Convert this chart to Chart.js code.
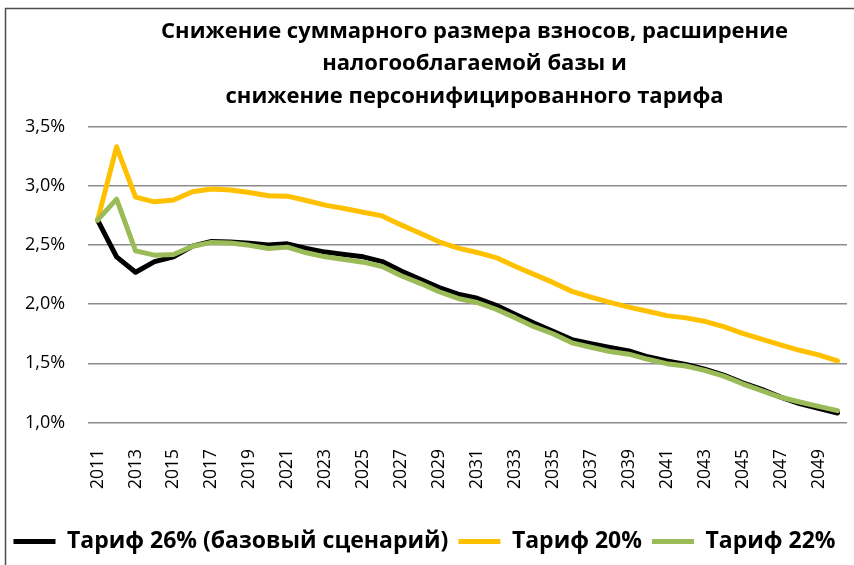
<!DOCTYPE html>
<html>
<head>
<meta charset="utf-8">
<script src="https://cdn.jsdelivr.net/npm/chart.js@4/dist/chart.umd.min.js"></script>
<style>
  html, body { margin: 0; padding: 0; background: #fff; overflow: hidden; }
  #chart { display: block; }
</style>
</head>
<body>
<canvas id="chart" width="854" height="565"></canvas>
<script>
'use strict';

// years on the x axis
var years = ['2011', '2012', '2013', '2014', '2015', '2016', '2017', '2018', '2019', '2020',
             '2021', '2022', '2023', '2024', '2025', '2026', '2027', '2028', '2029', '2030',
             '2031', '2032', '2033', '2034', '2035', '2036', '2037', '2038', '2039', '2040',
             '2041', '2042', '2043', '2044', '2045', '2046', '2047', '2048', '2049', '2050'];

// values, %
var tariff26 = [2.71, 2.40, 2.27, 2.36, 2.40, 2.49, 2.53, 2.525, 2.515, 2.50,
                2.51, 2.47, 2.44, 2.42, 2.40, 2.36, 2.28, 2.21, 2.14, 2.085,
                2.05, 1.99, 1.915, 1.84, 1.77, 1.70, 1.665, 1.635, 1.605, 1.555,
                1.52, 1.49, 1.45, 1.40, 1.335, 1.28, 1.215, 1.16, 1.12, 1.08];

var tariff20 = [2.71, 3.33, 2.905, 2.865, 2.88, 2.95, 2.973, 2.964, 2.944, 2.916,
                2.913, 2.876, 2.837, 2.808, 2.777, 2.746, 2.67, 2.60, 2.527, 2.474,
                2.437, 2.394, 2.32, 2.252, 2.184, 2.108, 2.06, 2.015, 1.975, 1.94,
                1.903, 1.884, 1.855, 1.81, 1.753, 1.705, 1.656, 1.61, 1.571, 1.52];

var tariff22 = [2.71, 2.888, 2.45, 2.414, 2.42, 2.49, 2.522, 2.516, 2.497, 2.471,
                2.482, 2.434, 2.40, 2.378, 2.355, 2.318, 2.24, 2.176, 2.105, 2.048,
                2.014, 1.957, 1.886, 1.81, 1.75, 1.673, 1.636, 1.60, 1.577, 1.534,
                1.497, 1.477, 1.44, 1.392, 1.327, 1.27, 1.213, 1.173, 1.136, 1.10];

var seriesNames = ['Тариф 26% (базовый сценарий)', 'Тариф 20%', 'Тариф 22%'];
var titleLines = ['Снижение суммарного размера взносов, расширение',
                  'налогооблагаемой базы и',
                  'снижение персонифицированного тарифа'];

var FONT = '"Open Sans", "Noto Sans", sans-serif';

function makeLine(label, data, color, order) {
  return {
    label: label,
    data: data,
    borderColor: color,
    backgroundColor: color,
    borderWidth: 5,
    borderCapStyle: 'round',
    borderJoinStyle: 'round',
    pointRadius: 0,
    pointHoverRadius: 0,
    tension: 0,
    order: order
  };
}

// white background + outer frame of the chart box (runs off the picture right/bottom)
var framePlugin = {
  id: 'frame',
  afterLayout: function (chart) {
    // title sits a little right of the plot centre in the original
    chart.titleBlock.left += 7;
    chart.titleBlock.right += 7;
  },
  beforeDraw: function (chart) {
    var ctx = chart.ctx;
    ctx.save();
    ctx.fillStyle = '#fff';
    ctx.fillRect(0, 0, chart.width, chart.height);
    ctx.strokeStyle = '#4d4d4d';
    ctx.lineWidth = 1.5;
    ctx.strokeRect(5.5, 8.5, 900, 600);
    ctx.restore();
  }
};

var ctx = document.getElementById('chart').getContext('2d');

new Chart(ctx, {
  type: 'line',
  data: {
    labels: years,
    datasets: [
      makeLine(seriesNames[0], tariff26, '#000000', 3),
      makeLine(seriesNames[1], tariff20, '#FFC000', 2),
      makeLine(seriesNames[2], tariff22, '#9BBB59', 1)
    ]
  },
  options: {
    responsive: false,
    animation: false,
    layout: {
      padding: { left: 2, right: 7, top: 0, bottom: 2 }
    },
    plugins: {
      tooltip: { enabled: false },
      title: {
        display: true,
        text: titleLines,
        fullSize: false,
        color: '#000',
        font: { family: FONT, size: 22, weight: 'bold', lineHeight: 1.48 },
        padding: { top: 15, bottom: 14 }
      },
      legend: {
        position: 'bottom',
        labels: {
          color: '#000',
          font: { family: FONT, size: 23, weight: 'bold' },
          usePointStyle: true,
          pointStyle: 'line',
          pointStyleWidth: 42,
          padding: 10,
          sort: function (a, b) { return a.datasetIndex - b.datasetIndex; }
        }
      }
    },
    scales: {
      x: {
        offset: true,
        grid: { display: false, drawTicks: false },
        border: { display: false },
        afterFit: function (scale) {
          // rotated labels should not push the plot edges in
          scale.paddingLeft = 0;
          scale.paddingRight = 0;
          scale.height += 4.5;
        },
        ticks: {
          autoSkip: false,
          minRotation: 90,
          maxRotation: 90,
          padding: 26.5,
          color: '#000',
          font: { family: FONT, size: 17.5 },
          callback: function (value, index) {
            return index % 2 === 0 ? this.getLabelForValue(value) : '';
          }
        }
      },
      y: {
        min: 1.0,
        max: 3.5,
        grid: { color: '#8c8c8c', lineWidth: 1.6, drawTicks: false },
        border: { display: false },
        ticks: {
          stepSize: 0.5,
          padding: 23,
          color: '#000',
          font: { family: FONT, size: 18 },
          callback: function (value) {
            return value.toFixed(1).replace('.', ',') + '%';
          }
        }
      }
    }
  },
  plugins: [framePlugin]
});
</script>
</body>
</html>
